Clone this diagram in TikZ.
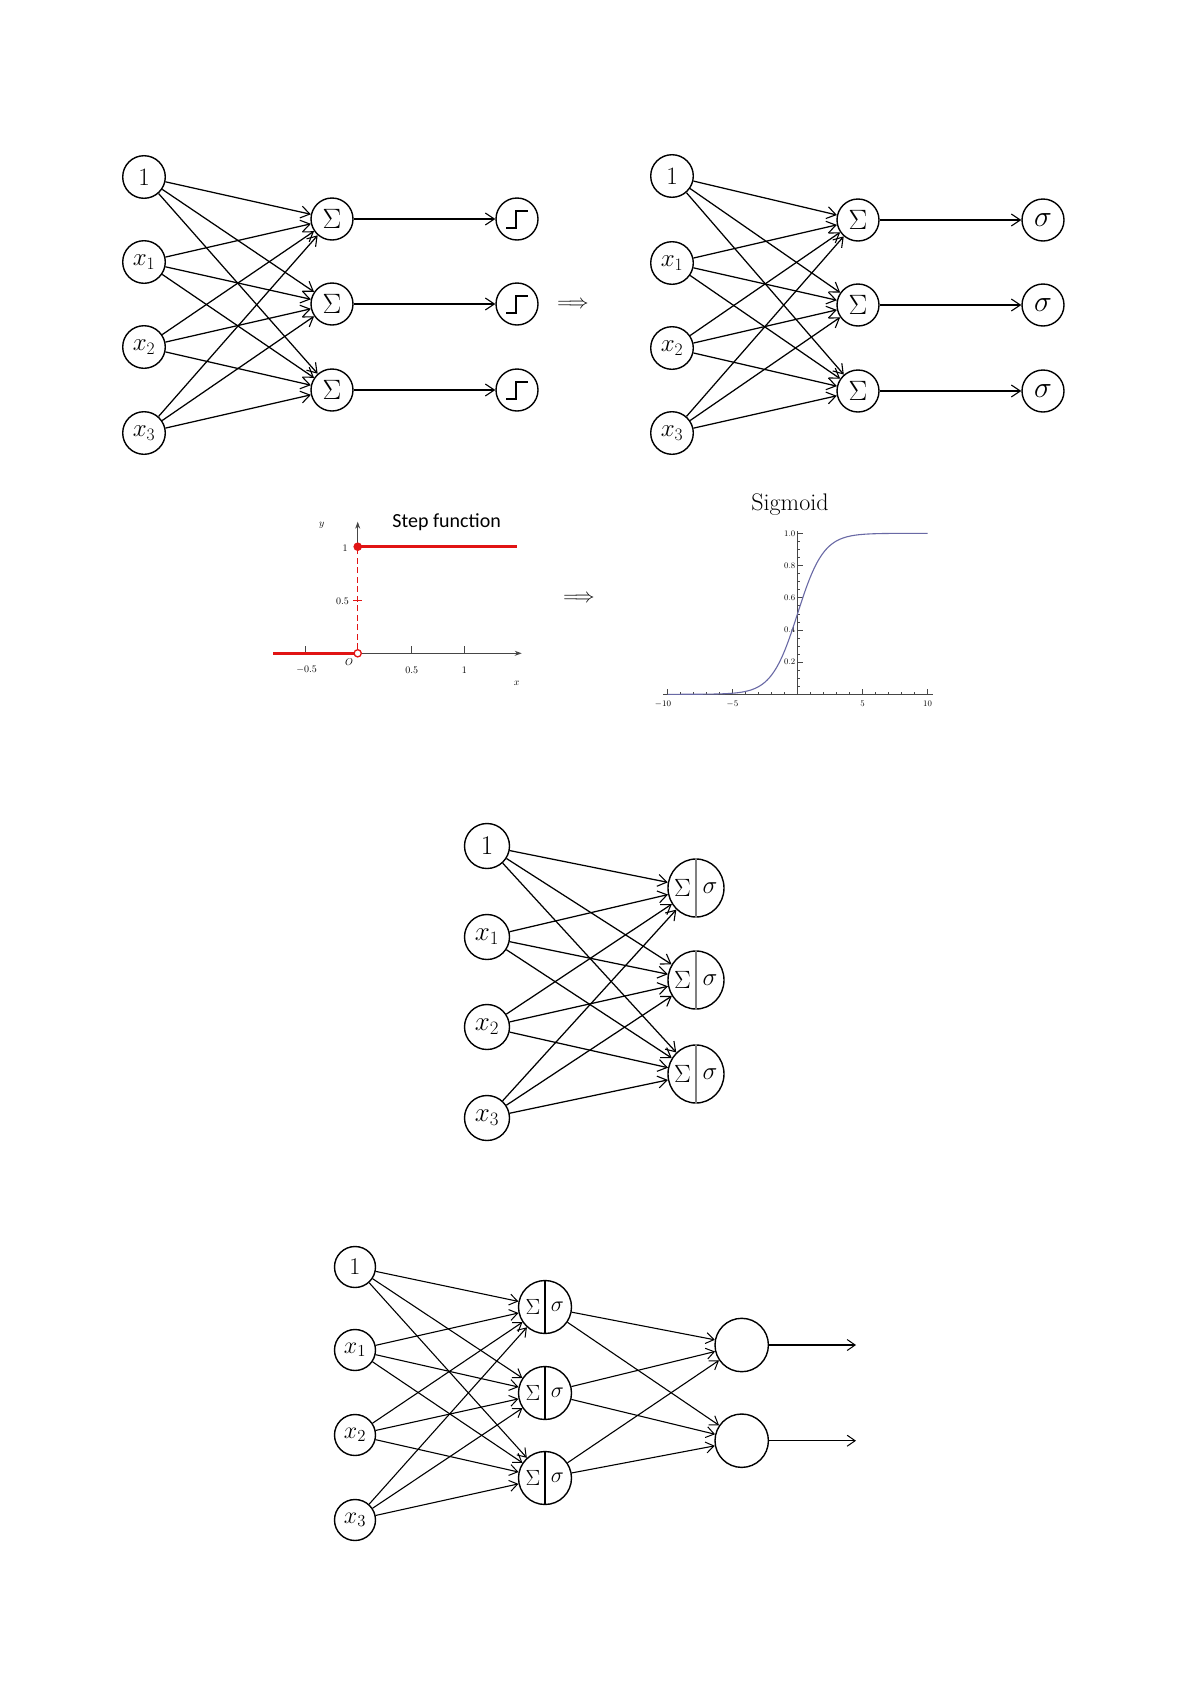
\RequirePackage{fix-cm}
\documentclass[tikz,border=0pt]{standalone}
\usepackage{fontspec}
\newfontfamily\calfont{Carlito}
\usetikzlibrary{arrows.meta,shapes.geometric}
\definecolor{sigcol}{RGB}{105,105,165}
\definecolor{axgray}{RGB}{70,70,70}
\definecolor{stepred}{RGB}{225,20,20}
\begin{document}
\begin{tikzpicture}[x=1pt,y=-1pt,
  conn/.style={-{Straight Barb[length=9pt,width=12pt,line width=1.1pt]}, line width=1.25pt},
  connD/.style={-{Straight Barb[length=8pt,width=11pt,line width=1pt]}, line width=1.1pt},
  nrn/.style={draw, circle, line width=1.4pt, inner sep=0pt},
  inA/.style={nrn, minimum size=42.6pt, font=\fontsize{25}{25}\selectfont},
  sumA/.style={nrn, minimum size=42pt, font=\fontsize{28}{28}\selectfont},
  outA/.style={nrn, minimum size=42pt, font=\fontsize{30}{30}\selectfont},
  inC/.style={nrn, minimum size=45pt, font=\fontsize{27}{27}\selectfont},
  hidC/.style={draw, ellipse, line width=1.4pt, inner sep=0pt, minimum width=56pt, minimum height=58pt},
  lblC/.style={inner sep=0pt, font=\fontsize{25}{25}\selectfont},
  inD/.style={nrn, minimum size=41pt, font=\fontsize{24}{24}\selectfont},
  hidD/.style={nrn, minimum size=53pt},
  lblD/.style={inner sep=0pt, font=\fontsize{22}{22}\selectfont},
  outD/.style={nrn, minimum size=53.4pt},
  stepsym/.style={line width=1.8pt},
  plotlbl/.style={inner sep=0pt, font=\fontsize{10}{10}\selectfont},
  siglbl/.style={inner sep=0pt, font=\fontsize{8.5}{8.5}\selectfont},
  impl/.style={inner sep=0pt, font=\fontsize{20}{20}\selectfont}
]
\fill[white] (0,0) rectangle (1191,1684);
\path[use as bounding box] (0,0) rectangle (1191,1684);

%% ---------------- Panel 1 (step) ----------------
\node[inA] (p1i1) at (144,177) {1};
\node[inA] (p1i2) at (144,262) {$x_1$};
\node[inA] (p1i3) at (144,347) {$x_2$};
\node[inA] (p1i4) at (144,433) {$x_3$};
\node[sumA] (p1s1) at (332,219) {$\Sigma$};
\node[sumA] (p1s2) at (332,304) {$\Sigma$};
\node[sumA] (p1s3) at (332,390) {$\Sigma$};
\node[outA] (p1o1) at (517,219) {};
\node[outA] (p1o2) at (517,304) {};
\node[outA] (p1o3) at (517,390) {};
\foreach \i in {1,...,4} \foreach \j in {1,2,3} \draw[conn] (p1i\i) -- (p1s\j);
\foreach \j in {1,2,3} {
  \draw[conn] (p1s\j) -- (p1o\j);
  \draw[stepsym] ([shift={(-10.7,9)}]p1o\j.center) -- ++(10,0) -- ++(0,-16.7) -- ++(11.7,0);
}

\node[impl] (imp1) at (573,305) {$\Longrightarrow$};

%% ---------------- Panel 2 (sigma) ----------------
\node[inA] (p2i1) at (672,176) {1};
\node[inA] (p2i2) at (672,263) {$x_1$};
\node[inA] (p2i3) at (672,348) {$x_2$};
\node[inA] (p2i4) at (672,433) {$x_3$};
\node[sumA] (p2s1) at (858,220) {$\Sigma$};
\node[sumA] (p2s2) at (858,305) {$\Sigma$};
\node[sumA] (p2s3) at (858,391) {$\Sigma$};
\node[outA] (p2o1) at (1043,220) {$\sigma$};
\node[outA] (p2o2) at (1043,305) {$\sigma$};
\node[outA] (p2o3) at (1043,391) {$\sigma$};
\foreach \i in {1,...,4} \foreach \j in {1,2,3} \draw[conn] (p2i\i) -- (p2s\j);
\foreach \j in {1,2,3} \draw[conn] (p2s\j) -- (p2o\j);

%% ---------------- Step function plot ----------------
\draw[axgray, line width=0.8pt, -{Stealth[length=7pt,width=5pt]}] (273,653.3) -- (521.7,653.3);
\draw[axgray, line width=0.8pt, -{Stealth[length=7pt,width=5pt]}] (357.7,653.3) -- (357.7,521.7);
\foreach \tx in {305.7,411.7,464.3} \draw[axgray, line width=0.7pt] (\tx,653.3) -- (\tx,646.3);
\draw[stepred, line width=0.9pt] (353,600) -- (362.4,600);
\draw[stepred, line width=2.8pt] (273,653.3) -- (357.7,653.3);
\draw[stepred, line width=2.8pt] (357.7,546.7) -- (516.7,546.7);
\draw[white, line width=1.2pt] (357.7,649) -- (357.7,551);
\draw[stepred, line width=1pt, dash pattern=on 6pt off 3.5pt] (357.7,649) -- (357.7,551);
\fill[stepred] (357.7,546.7) circle (4.3pt);
\draw[stepred, fill=white, line width=1.3pt] (357.7,653.3) circle (3.6pt);
\node[plotlbl] (ly) at (321.7,525) {$y$};
\node[plotlbl] (l1) at (345,548) {1};
\node[plotlbl, anchor=east] (l05) at (349,601) {0.5};
\node[plotlbl] (lO) at (349,662) {$O$};
\node[plotlbl] (lm05) at (306.7,670) {$-0.5$};
\node[plotlbl] (lp05) at (411.7,670) {0.5};
\node[plotlbl] (lp1) at (464.3,670) {1};
\node[plotlbl] (lx) at (516.7,683) {$x$};
\node[inner sep=0pt, font=\calfont\fontsize{20}{20}\selectfont] (steptitle) at (446.7,521.7) {Step function};

\node[impl] (imp2) at (579,599) {$\Longrightarrow$};

%% ---------------- Sigmoid plot ----------------
\node[inner sep=0pt, font=\fontsize{24}{24}\selectfont] (sigtitle) at (790,505) {Sigmoid};
\draw[axgray, line width=0.7pt] (663,694.3) -- (933,694.3);
\draw[axgray, line width=0.7pt] (797.5,694.3) -- (797.5,531);
\foreach \k in {-10,...,10} {
  \pgfmathsetmacro{\tl}{(mod(abs(\k),5)==0) ? 5 : 2.5}
  \draw[axgray, line width=0.6pt] ({797.5+13*\k},694.3) -- ({797.5+13*\k},{694.3-\tl});
}
\foreach \v in {1,...,20} {
  \pgfmathsetmacro{\tl}{(mod(\v,4)==0) ? 5 : 2.5}
  \draw[axgray, line width=0.6pt] (797.5,{694.3-8.05*\v}) -- ({797.5+\tl},{694.3-8.05*\v});
}
\node[siglbl] (sxm10) at (663,704) {$-10$};
\node[siglbl] (sxm5) at (732.5,704) {$-5$};
\node[siglbl] (sx5) at (862.5,704) {5};
\node[siglbl] (sx10) at (927.5,704) {10};
\node[siglbl, anchor=east] (sy2) at (795.5,{694.3-32.2}) {0.2};
\node[siglbl, anchor=east] (sy4) at (795.5,{694.3-64.4}) {0.4};
\node[siglbl, anchor=east] (sy6) at (795.5,{694.3-96.6}) {0.6};
\node[siglbl, anchor=east] (sy8) at (795.5,{694.3-128.8}) {0.8};
\node[siglbl, anchor=east] (sy10) at (795.5,{694.3-161}) {1.0};
\draw[sigcol, line width=1.1pt, domain=-10:0, samples=61, smooth] plot ({797.5+13*\x},{694.3-161*exp(\x)/(1+exp(\x))});
\draw[sigcol, line width=1.1pt, domain=0:10, samples=61, smooth] plot ({797.5+13*\x},{694.3-161/(1+exp(-\x))});

%% ---------------- Panel 3 ----------------
\node[inC] (p3i1) at (487,846) {1};
\node[inC] (p3i2) at (487,937) {$x_1$};
\node[inC] (p3i3) at (487,1027) {$x_2$};
\node[inC] (p3i4) at (487,1118) {$x_3$};
\foreach \j/\yy in {1/888,2/980,3/1074} {
  \node[hidC] (p3h\j) at (696,\yy) {};
  \draw[gray, line width=1.2pt] (p3h\j.north) -- (p3h\j.south);
  \node[lblC] (p3s\j) at ([xshift=-13.5pt]p3h\j.center) {$\Sigma$};
  \node[lblC] (p3g\j) at ([xshift=14pt]p3h\j.center) {$\sigma$};
}
\foreach \i in {1,...,4} \foreach \j in {1,2,3} \draw[conn] (p3i\i) -- (p3h\j);

%% ---------------- Panel 4 ----------------
\node[inD] (p4i1) at (355,1267) {1};
\node[inD] (p4i2) at (355,1350) {$x_1$};
\node[inD] (p4i3) at (355,1435) {$x_2$};
\node[inD] (p4i4) at (355,1520) {$x_3$};
\foreach \j/\yy in {1/1307,2/1393,3/1478} {
  \node[hidD] (p4h\j) at (545,\yy) {};
  \draw[line width=1.3pt] (p4h\j.north) -- (p4h\j.south);
  \node[lblD] (p4s\j) at ([xshift=-12pt]p4h\j.center) {$\Sigma$};
  \node[lblD] (p4g\j) at ([xshift=12.5pt]p4h\j.center) {$\sigma$};
}
\node[outD] (p4o1) at (741.7,1345) {};
\node[outD] (p4o2) at (741.7,1440.7) {};
\coordinate (p4e1) at (856,1345);
\coordinate (p4e2) at (856,1440.7);
\foreach \i in {1,...,4} \foreach \j in {1,2,3} \draw[connD] (p4i\i) -- (p4h\j);
\foreach \j in {1,2,3} \foreach \k in {1,2} \draw[connD] (p4h\j) -- (p4o\k);
\draw[connD] (p4o1) -- (p4e1);
\draw[connD] (p4o2) -- (p4e2);
\end{tikzpicture}
\end{document}
